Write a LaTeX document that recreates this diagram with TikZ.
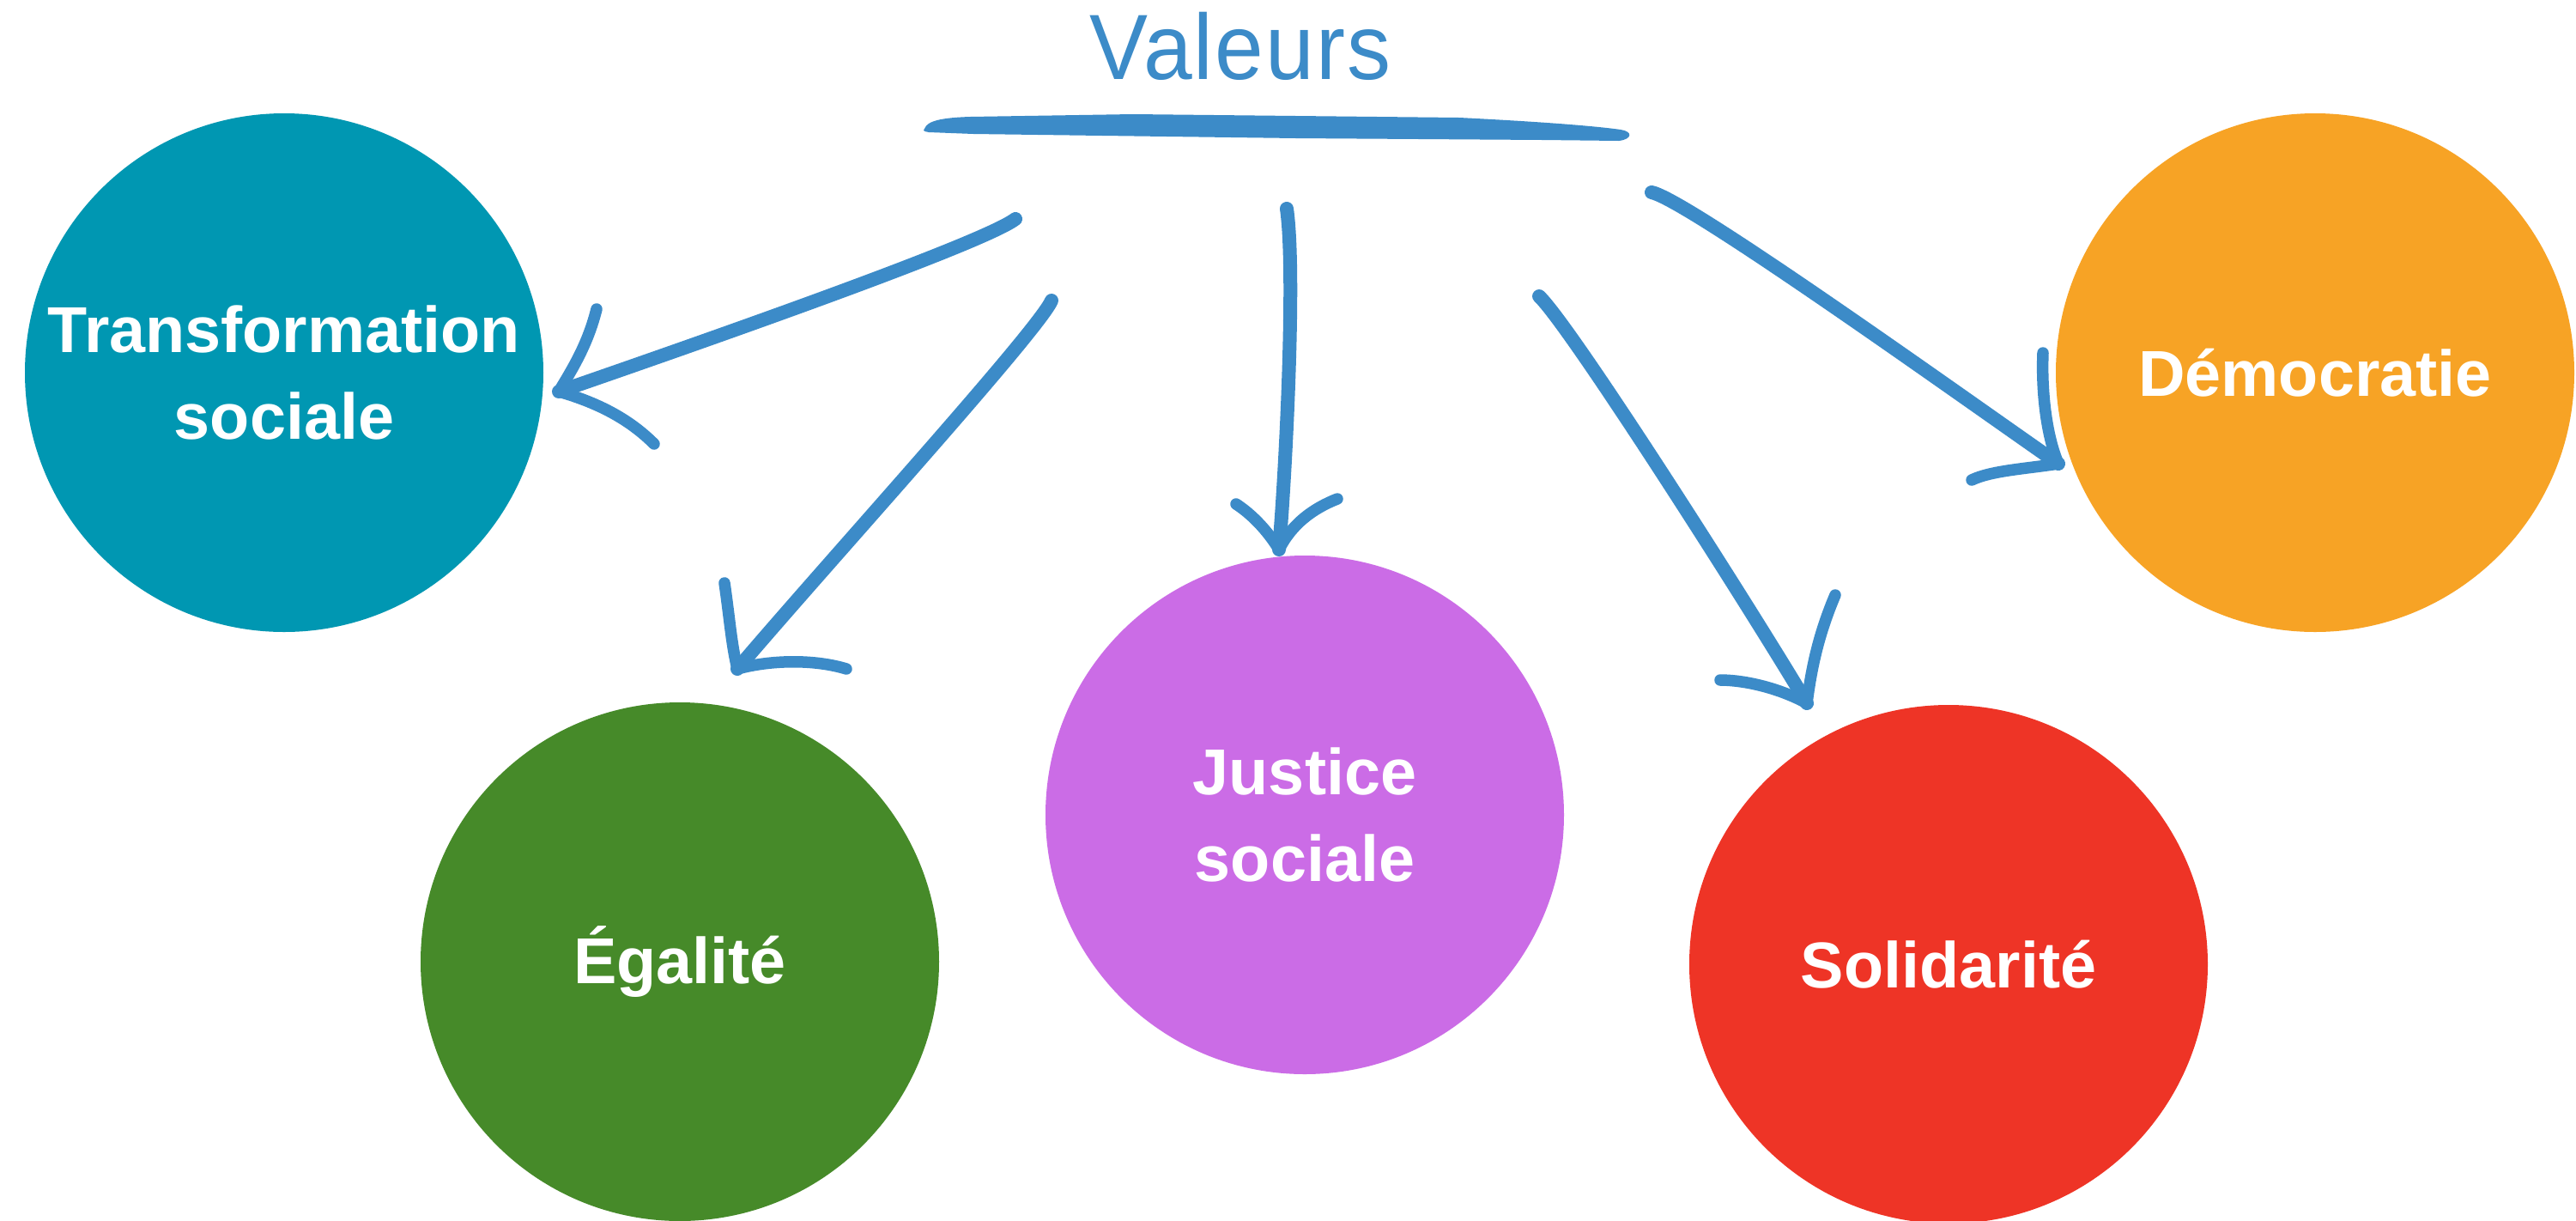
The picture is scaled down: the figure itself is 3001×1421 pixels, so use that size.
\documentclass[tikz,border=0pt]{standalone}
\usepackage{fontspec}
\setmainfont{Liberation Sans}
\newfontfamily\titlefont[LetterSpace=2]{Liberation Sans}
\definecolor{cTeal}{RGB}{0,151,178}
\definecolor{cGreen}{RGB}{70,138,41}
\definecolor{cPurple}{RGB}{203,108,230}
\definecolor{cRed}{RGB}{238,52,38}
\definecolor{cOrange}{RGB}{247,163,37}
\definecolor{cBlue}{RGB}{60,139,200}
\begin{document}
\begin{tikzpicture}[x=0.1mm,y=-0.1mm,
  bubble/.style={circle, minimum size=60.4mm, inner sep=0pt, text=white,
    font=\bfseries\fontsize{21.5}{28.5}\selectfont, align=center},
  brush/.style={draw=cBlue, line width=1.6mm, line cap=round, line join=round},
  barb/.style={draw=cBlue, line width=1.35mm, line cap=round, line join=round}]
\useasboundingbox (0,0) rectangle (3001,1421);
\fill[white] (0,0) rectangle (3001,1421);

% bubbles
\node[bubble, fill=cTeal]   (trans) at (331,434)  {Transformation\\sociale};
\node[bubble, fill=cGreen]  (egal)  at (792,1120) {Égalité};
\node[bubble, fill=cPurple] (just)  at (1520,949) {Justice\\sociale};
\node[bubble, fill=cRed]    (soli)  at (2270,1123) {Solidarité};
\node[bubble, fill=cOrange] (demo)  at (2697,434) {Démocratie};

% title and brush underline
\node[anchor=base, text=cBlue, inner sep=0pt,
  font=\titlefont\fontsize{29}{35}\selectfont, yscale=1.06] (valeurs) at (1445,92) {Valeurs};
\fill[cBlue] (1077,150) .. controls (1080,140) and (1100,137) .. (1130,136)
  -- (1320,133) -- (1700,137) .. controls (1800,142) and (1860,147) .. (1888,151)
  .. controls (1902,153) and (1902,162) .. (1886,164)
  -- (1797,163) -- (1510,161) -- (1134,156) -- (1082,154)
  .. controls (1076,153) and (1075,152) .. (1077,150) -- cycle;

% arrow ends
\coordinate (s1) at (1183,255); \coordinate (t1) at (651,456);
\coordinate (s2) at (1225,350); \coordinate (t2) at (859,779);
\coordinate (s3) at (1499,243); \coordinate (t3) at (1490,640);
\coordinate (s4) at (1793,345); \coordinate (t4) at (2105,819);
\coordinate (s5) at (1924,224); \coordinate (t5) at (2398,540);

% arrow 1 -> Transformation sociale
\draw[brush] (s1) .. controls (1150,280) and (900,370) .. (t1);
\draw[barb] (695,360) .. controls (685,400) and (668,428) .. (t1)
  .. controls (700,470) and (735,490) .. (762,517);
% arrow 2 -> Egalite
\draw[brush] (s2) .. controls (1210,385) and (960,660) .. (t2);
\draw[barb] (844,679) .. controls (850,720) and (852,750) .. (t2)
  .. controls (900,768) and (950,768) .. (986,779);
% arrow 3 -> Justice sociale
\draw[brush] (s3) .. controls (1510,320) and (1497,560) .. (t3);
\draw[barb] (1440,587) .. controls (1460,600) and (1478,620) .. (t3)
  .. controls (1505,610) and (1530,592) .. (1558,581);
% arrow 4 -> Solidarite
\draw[brush] (s4) .. controls (1830,380) and (2040,710) .. (t4);
\draw[barb] (2138,693) .. controls (2118,740) and (2110,780) .. (t4)
  .. controls (2070,800) and (2030,792) .. (2004,792);
% arrow 5 -> Democratie
\draw[brush] (s5) .. controls (1965,232) and (2290,465) .. (t5);
\draw[barb] (2380,411) .. controls (2378,460) and (2385,510) .. (t5)
  .. controls (2360,546) and (2320,548) .. (2297,559);
\end{tikzpicture}
\end{document}
